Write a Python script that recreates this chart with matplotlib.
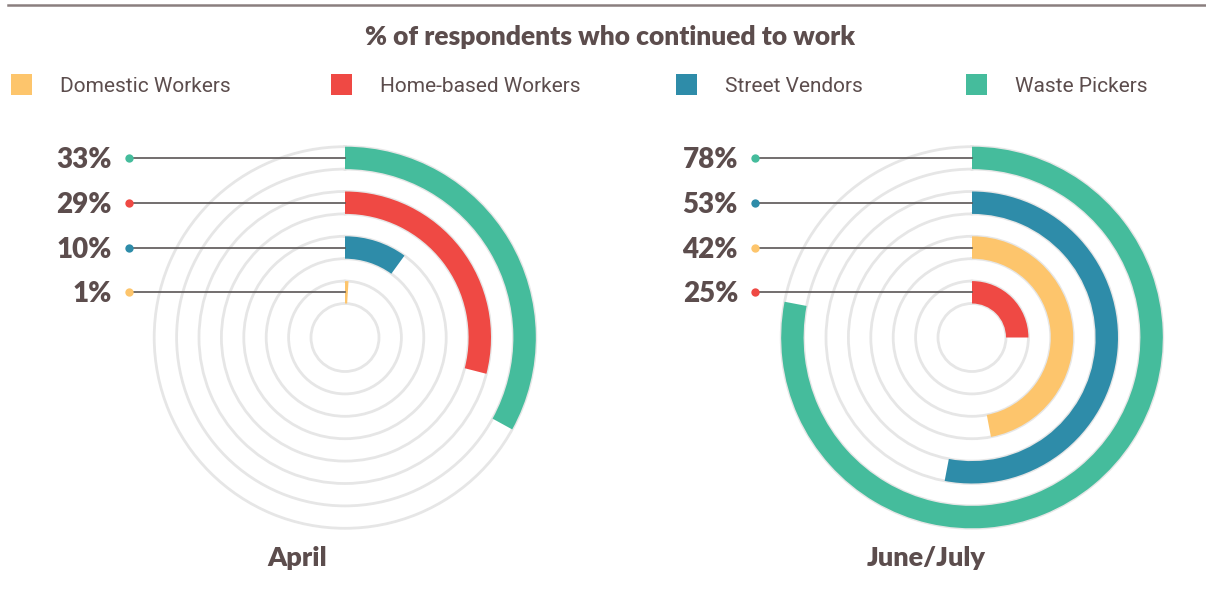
import numpy as np
import matplotlib.pyplot as plt
from matplotlib.patches import Rectangle

categories = ["Domestic Workers", "Home-based Workers", "Street Vendors", "Waste Pickers"]
colors = ["#FDC56C", "#EF4944", "#2E8CA9", "#45BC9C"]
periods = ["April", "June/July"]
# arc lengths as drawn (percent of full circle)
april = [1, 29, 10, 33]
june_july = [47, 25, 53, 78]
# the printed labels (the Domestic Workers arc in June/July is drawn longer than its label)
april_labels = ["1%", "29%", "10%", "33%"]
june_july_labels = ["42%", "25%", "53%", "78%"]

TXT = "#5C4D4D"
GRID = "#E6E6E6"

W, H = 1206, 600
fig = plt.figure(figsize=(W / 100, H / 100), dpi=100)

# overlay axes in pixel coordinates for text / leader lines
ov = fig.add_axes([0, 0, 1, 1], zorder=5)
ov.set_xlim(0, W)
ov.set_ylim(H, 0)
ov.axis("off")
ov.patch.set_alpha(0)

ov.plot([8, W], [5, 5], color="#8A7F7F", lw=1.8)
ov.text(610, 37, "% of respondents who continued to work", ha="center", va="center",
        fontsize=19, fontweight="heavy", family="Lato", color=TXT)

leg_x = [11, 331, 676, 966]
for x, c, name in zip(leg_x, colors, categories):
    ov.add_patch(Rectangle((x, 74), 21, 21, color=c, lw=0))
    ov.text(x + 49, 86, name, ha="left", va="center", fontsize=15,
            family="Roboto", color=TXT)

# ring radii (pixels): 8 gray circles, bars fill alternate gaps
radii = 34 + 22.4 * np.arange(8)
R = 194
cy = 337.5
centers_x = [345, 972]
label_right = [112, 738]
dot_x = [129, 755]
period_x = [297, 926]

for cx, vals, labs, lr, dx, px, period in zip(centers_x, [april, june_july],
                                              [april_labels, june_july_labels],
                                              label_right, dot_x, period_x, periods):
    ax = fig.add_axes([(cx - R) / W, (H - cy - R) / H, 2 * R / W, 2 * R / H],
                      projection="polar")
    ax.set_theta_zero_location("N")
    ax.set_theta_direction(-1)
    ax.set_ylim(0, R)
    ax.set_rticks(radii)
    ax.set_yticklabels([])
    ax.set_xticks([])
    ax.spines["polar"].set_visible(False)
    ax.grid(True, axis="y", color=GRID, lw=2)
    ax.set_axisbelow(True)
    ax.patch.set_alpha(0)

    order = np.argsort(vals)  # smallest value innermost
    for slot, i in enumerate(order):
        r0, r1 = radii[2 * slot], radii[2 * slot + 1]
        ax.barh(r0, vals[i] / 100 * 2 * np.pi, height=r1 - r0, left=0,
                align="edge", color=colors[i], lw=0, zorder=3)
        y = cy - (r0 + r1) / 2
        ov.plot([dx, cx], [y, y], color="#5A5555", lw=1.2)
        ov.plot(dx, y, "o", ms=6, color=colors[i], mec="none")
        ov.text(lr, y + 2, labs[i], ha="right", va="center", fontsize=20,
                fontweight="heavy", family="Lato", color=TXT)

    ov.text(px, 558, period, ha="center", va="center", fontsize=19.5,
            fontweight="heavy", family="Lato", color=TXT)

fig.savefig("out.png", dpi=100)
